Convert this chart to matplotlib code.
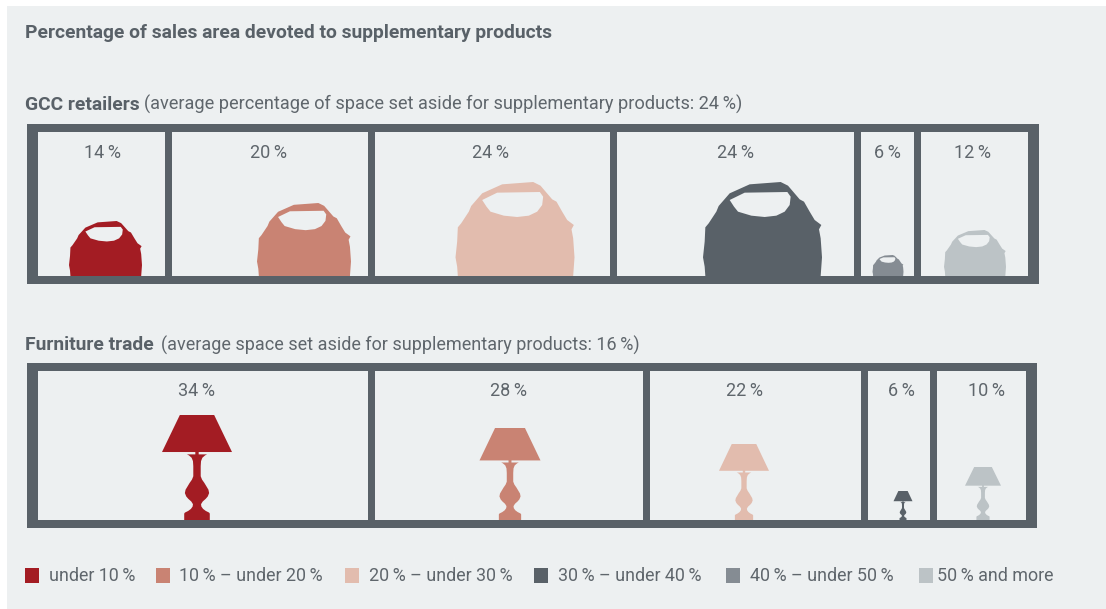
import numpy as np
import matplotlib
matplotlib.use('Agg')
import matplotlib.pyplot as plt
from matplotlib.path import Path
from matplotlib.patches import PathPatch, Rectangle
from matplotlib.transforms import Affine2D

# data
gcc_shares = [13.4, 20.4, 24.3, 24.4, 6.1, 11.4]
gcc_labels = ['14\u2009%', '20\u2009%', '24\u2009%', '24\u2009%', '6\u2009%', '12\u2009%']
furniture_shares = [33.9, 27.6, 21.9, 7.0, 9.6]
furniture_labels = ['34\u2009%', '28\u2009%', '22\u2009%', '6\u2009%', '10\u2009%']
legend_labels = ['under 10\u2009%', '10\u2009% \u2013 under 20\u2009%', '20\u2009% \u2013 under 30\u2009%',
                 '30\u2009% \u2013 under 40\u2009%', '40\u2009% \u2013 under 50\u2009%', '50\u2009% and more']

W, H = 1106, 609
PANEL = '#edf0f1'
FRAME = '#596168'
TEXT = '#5f666c'
RED, SALMON, PALE, DARK, MID, LIGHT = '#a31c23', '#c98373', '#e2bcae', '#596168', '#858c93', '#bcc3c6'
GAP = 7  # px between two cells

plt.rcParams['font.family'] = ['Roboto', 'DejaVu Sans']

# bag outline, traced in a 357 x 282 box
bag_outer = [(52, 318), (50, 290), (45, 262), (50, 215), (52, 172), (62, 160), (85, 125), (92, 108),
             (125, 70), (185, 43), (278, 36), (300, 47), (335, 88), (348, 95), (365, 125), (380, 150),
             (400, 165), (393, 178), (398, 205), (402, 262), (398, 318)]
bag_hole = [(125, 90), (170, 68), (298, 66), (308, 80), (305, 105), (290, 125), (265, 137), (230, 141),
            (190, 137), (150, 125), (138, 110)][::-1]
# right half of the lamp (half width, y), traced in a 208 x 312 box
lamp_shade = [(51, 33), (104, 143)]
lamp_foot = [(5, 143), (5, 150), (30, 150), (24, 153), (16, 160), (12, 170), (11, 185), (11, 215), (15, 225),
             (22, 235), (28, 245), (34, 255), (36, 265), (32, 275), (26, 282), (17, 290), (12, 298), (13, 305),
             (18, 312), (26, 318), (36, 323), (38, 326), (38, 345)]


def norm_bag(pts):
    return [((x - 223.5) / 357, (318 - y) / 282) for x, y in pts]


def closed(pts):
    verts = pts + [pts[0]]
    codes = [Path.MOVETO] + [Path.LINETO] * (len(pts) - 1) + [Path.CLOSEPOLY]
    return verts, codes


def bag_path():
    v1, c1 = closed(norm_bag(bag_outer))
    v2, c2 = closed(norm_bag(bag_hole))
    return Path(v1 + v2, c1 + c2)


def lamp_path():
    def half(pts):
        right = [(x / 208, (345 - y) / 312) for x, y in pts]
        return right + [(-x, y) for x, y in right[::-1]]
    v1, c1 = closed(half(lamp_shade))
    v2, c2 = closed(half(lamp_foot))
    return Path(v1 + v2, c1 + c2)


def draw_row(fig, shares, labels, colors, path, centers, sizes, label_x, box, inner):
    x0, y0, x1, y1 = box
    left, top, right, bottom = inner
    ax = fig.add_axes([x0 / W, 1 - y1 / H, (x1 - x0) / W, (y1 - y0) / H])
    scale = (right + GAP - left) / sum(shares)
    ax.set_xlim(-(left - x0) / scale, (x1 - left) / scale)
    ax.set_ylim(-(y1 - bottom), bottom - y0)
    ax.set_facecolor(FRAME)
    ax.set_xticks([])
    ax.set_yticks([])
    for s in ax.spines.values():
        s.set_visible(False)
    starts = np.concatenate([[0], np.cumsum(shares)[:-1]])
    ax.bar(starts, bottom - top, width=np.array(shares) - GAP / scale, align='edge', color=PANEL)
    for i in range(len(shares)):
        w, h = sizes[i]
        tr = Affine2D().scale(w / scale, h).translate((centers[i] - left) / scale, 0) + ax.transData
        ax.add_patch(PathPatch(path, transform=tr, facecolor=colors[i], edgecolor='none'))
        ax.text((label_x[i] - left) / scale, bottom - top - 20.5, labels[i], ha='center', va='center',
                fontsize=13, color=TEXT)
    return ax


fig = plt.figure(figsize=(W / 100, H / 100), dpi=100, facecolor='white')
fig.add_artist(Rectangle((7 / W, 0), 1, 1 - 6 / H, transform=fig.transFigure, facecolor=PANEL,
                         edgecolor='none', zorder=-1))


def px_text(x, y, s, color=TEXT, **kw):
    return fig.text(x / W, 1 - y / H, s, va='center', color=color, **kw)


px_text(25, 33.5, 'Percentage of sales area devoted to supplementary products', color=FRAME,
        fontsize=13.9, fontweight='bold')
px_text(25, 104.5, 'GCC retailers', color=FRAME, fontsize=13.9, fontweight='bold')
px_text(144, 104.5, '(average percentage of space set aside for supplementary products: 24\u2009%)', fontsize=13.05)
px_text(25, 345.5, 'Furniture trade', color=FRAME, fontsize=13.9, fontweight='bold')
px_text(161, 345.5, '(average space set aside for supplementary products: 16\u2009%)', fontsize=12.95)

draw_row(fig, gcc_shares, gcc_labels, [RED, SALMON, PALE, DARK, MID, LIGHT], bag_path(),
         [105.5, 304, 515, 762.5, 888, 975],
         [(73, 55), (94, 73), (119, 94), (119, 94), (31, 21), (62, 46)],
         [102, 269, 490, 735, 887, 972],
         (27, 124, 1039, 284), (38, 132, 1028, 276))

draw_row(fig, furniture_shares, furniture_labels, [RED, SALMON, PALE, DARK, LIGHT], lamp_path(),
         [197, 510, 744, 903, 983],
         [(70, 105), (61, 92), (50, 76), (19, 29), (36, 53)],
         [197, 509, 744, 901, 986],
         (27, 363, 1037, 528), (38, 371, 1026, 520))

# legend
legend_colors = [RED, SALMON, PALE, DARK, MID, LIGHT]
swatch_x = [25, 156, 345, 534, 726, 919]
text_x = [49, 179, 369, 558, 750, 937]
for sx, tx, col, lab in zip(swatch_x, text_x, legend_colors, legend_labels):
    fig.add_artist(Rectangle((sx / W, 1 - 583 / H), 14 / W, 15 / H, transform=fig.transFigure,
                             facecolor=col, edgecolor='none'))
    px_text(tx, 576, lab, fontsize=12.85)

fig.savefig('out.png', dpi=100)
